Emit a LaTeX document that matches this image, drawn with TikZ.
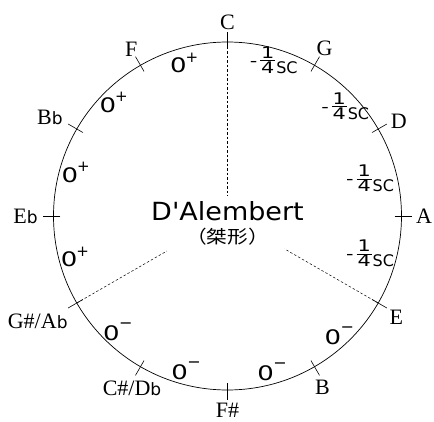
\documentclass[tikz,border=0pt]{standalone}
\usepackage{fontspec}
\setmainfont{Liberation Serif}
\setsansfont[FakeStretch=1.3]{DejaVu Sans}
\newfontfamily\flatfont{DejaVu Sans}
\newfontfamily\titlefont[FakeStretch=1.08]{DejaVu Sans}
\newfontfamily\cjkfont[FakeStretch=1.15]{Noto Sans CJK JP}
\usetikzlibrary{positioning}

\newcommand{\flt}{{\flatfont\fontsize{17}{17}\selectfont b}}
\newcommand{\qsc}{{\fontsize{16}{16}\selectfont
  \raisebox{7.2pt}{-}\kern3pt%
  \ooalign{\hfil\raisebox{15pt}{1}\hfil\cr\hfil 4\hfil\cr\rule[12.2pt]{15pt}{0.8pt}\cr}%
  \kern1pt{\flatfont\fontsize{16}{16}\selectfont SC}}}
\newcommand{\zp}{0\kern-1pt\raisebox{10.7pt}{\flatfont\fontsize{15}{15}\selectfont +}}
\newcommand{\zm}{0\kern-0.5pt\raisebox{11.7pt}{\flatfont\fontsize{16}{16}\selectfont\char"2212}}

\begin{document}
\begin{tikzpicture}[
    x=1pt, y=1pt,
    rim/.style={line width=0.7pt},
    notch/.style={line width=0.6pt},
    guide/.style={line width=0.5pt, dash pattern=on 2.5pt off 2pt},
    note/.style={font=\fontsize{22}{22}\selectfont, inner sep=0pt},
    amount/.style={font=\sffamily\fontsize{20}{20}\selectfont, inner sep=0pt},
    title/.style={font=\titlefont\fontsize{25}{25}\selectfont, inner sep=0pt}
]
\useasboundingbox (-227.5,-205) rectangle (206.5,216);

\coordinate (o) at (0,0);
\draw[rim] (o) circle (174);

\foreach \ang in {0,30,...,330}
    \draw[notch] (\ang:167) -- (\ang:184);

\node[note] (c)  at (90:194)   {C};
\node[note] (g)  at (60:194)   {G};
\node[note] (d)  at (29:196)   {D};
\node[note] (a)  at (0:196.5)  {A};
\node[note] (e)  at (-31:197)  {E};
\node[note] (b)  at (-61:196)  {B};
\node[note] (fs) at (-90:194)  {F\#};
\node[note] (cs) at (-119:197) {C\#/D\flt};
\node[note] (gs) at (-151:217) {G\#/A\flt};
\node[note] (eb) at (180:202)  {E\flt};
\node[note] (bb) at (151:203)  {B\flt};
\node[note] (f)  at (120:192.5) {F};

\node[amount] (cg) at (73.5:162.7) {\qsc};
\node[amount] (gd) at (43:161)     {\qsc};
\node[amount] (da) at (14.7:147.4) {\qsc};
\node[amount] (ae) at (-14.7:147.4) {\qsc};
\node[amount] (eb-) at (-47:164)  {\zm};
\node[amount] (bf)  at (-74:162)  {\zm};
\node[amount] (fc)  at (-105:160) {\zm};
\node[amount] (cgs) at (-133.4:159.5) {\zm};
\node[amount] (gse) at (-165:158) {\zp};
\node[amount] (ebb) at (164:158)  {\zp};
\node[amount] (bbf) at (135:161)  {\zp};
\node[amount] (fc+) at (105.8:159.2) {\zp};

\node[title, anchor=base] (tname) at (0,-4) {D'Alembert};
\node[font=\cjkfont\fontsize{18}{18}\selectfont, inner sep=0pt,
      below=7pt of tname] (tsub) {（桀形）};

\coordinate (hub-c) at (90:20);
\coordinate (hub-e) at (-30:66);
\coordinate (hub-gs) at (-150:70);
\draw[guide] (90:174) -- (hub-c);
\draw[guide] (-30:174) -- (hub-e);
\draw[guide] (-150:174) -- (hub-gs);

\end{tikzpicture}
\end{document}
